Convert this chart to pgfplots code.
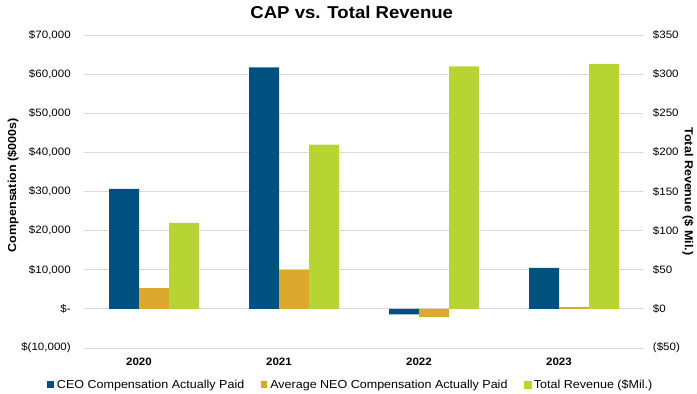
\documentclass[border=0pt]{standalone}
\usepackage{fontspec}
\setmainfont{Liberation Sans}[FakeStretch=1.08]
\usepackage{pgfplots}
\pgfplotsset{compat=1.18}
\definecolor{ceo}{HTML}{00517F}
\definecolor{neo}{HTML}{DBA92C}
\definecolor{rev}{HTML}{B7D433}
\definecolor{gridc}{HTML}{D9D9D9}

\begin{document}
\begin{tikzpicture}
\pgfplotsset{
  base/.style={
    scale only axis, width=559pt, height=313pt,
    xmin=-0.3929, xmax=3.6,
    axis line style={draw=none},
    major tick length=0pt,
    scaled y ticks=false,
    tick label style={font=\fontsize{10.7}{12}\selectfont},
  }
}
\begin{axis}[base,
  ymin=-10000, ymax=70000,
  ytick={-10000,0,10000,20000,30000,40000,50000,60000,70000},
  yticklabels={{\$(10,000)},{\$-},{\$10,000},{\$20,000},{\$30,000},{\$40,000},{\$50,000},{\$60,000},{\$70,000}},
  yticklabel style={xshift=-9.7pt},
  xtick={0,1,2,3}, xticklabels={2020,2021,2022,2023},
  xticklabel style={font=\bfseries\fontsize{10.7}{12}\selectfont, yshift=-6.5pt},
  ymajorgrids, grid style={gridc, line width=1pt},
  ylabel={Compensation (\$000s)},
  ylabel style={font=\bfseries\fontsize{11.6}{13}\selectfont, at={(axis description cs:-0.127,0.52)}, anchor=center},
  title={CAP vs. Total Revenue},
  title style={font=\bfseries\fontsize{17.2}{20}\selectfont, at={(axis description cs:0.479,1)}, anchor=south, yshift=6.7pt},
  legend columns=3,
  legend style={at={(axis description cs:0.477,-0.118)}, anchor=center, draw=none, fill=none,
    font=\fontsize{11.6}{13}\selectfont, inner sep=0pt, nodes={inner sep=1.5pt},
    /tikz/every odd column/.append style={column sep=1.5pt},
    /tikz/every even column/.append style={column sep=15pt}},
]
\addplot[ybar, bar width=30pt, bar shift=-15pt, fill=ceo, draw=none,
  legend image code/.code={\fill[ceo] (0pt,-3pt) rectangle (6.5pt,3.5pt);}]
  coordinates {(0,30700) (1,61700) (2,-1400) (3,10500)};
\addplot[ybar, bar width=30pt, bar shift=15pt, fill=neo, draw=none,
  legend image code/.code={\fill[neo] (0pt,-3pt) rectangle (6.5pt,3.5pt);}]
  coordinates {(0,5300) (1,10000) (2,-2100) (3,450)};
\addlegendimage{legend image code/.code={\fill[rev] (0pt,-3pt) rectangle (6.5pt,3.5pt);}}
\legend{CEO Compensation Actually Paid, Average NEO Compensation Actually Paid, Total Revenue (\$Mil.)}
\end{axis}
\begin{axis}[base,
  ymin=-50, ymax=350,
  ytick={-50,0,50,100,150,200,250,300,350},
  yticklabels={{(\$50)},{\$0},{\$50},{\$100},{\$150},{\$200},{\$250},{\$300},{\$350}},
  axis y line*=right, hide x axis,
  yticklabel style={xshift=6.4pt},
  ylabel={Total Revenue (\$ Mil.)},
  ylabel style={font=\bfseries\fontsize{11.6}{13}\selectfont, rotate=180, at={(axis description cs:1.0805,0.5)}, anchor=center},
]
\addplot[ybar, bar width=30pt, bar shift=45pt, fill=rev, draw=none]
  coordinates {(0,110) (1,210) (2,310) (3,313)};
\end{axis}
\pgfresetboundingbox
\path[use as bounding box] (-84pt,-46pt) rectangle (613pt,348pt);
\end{tikzpicture}
\end{document}
